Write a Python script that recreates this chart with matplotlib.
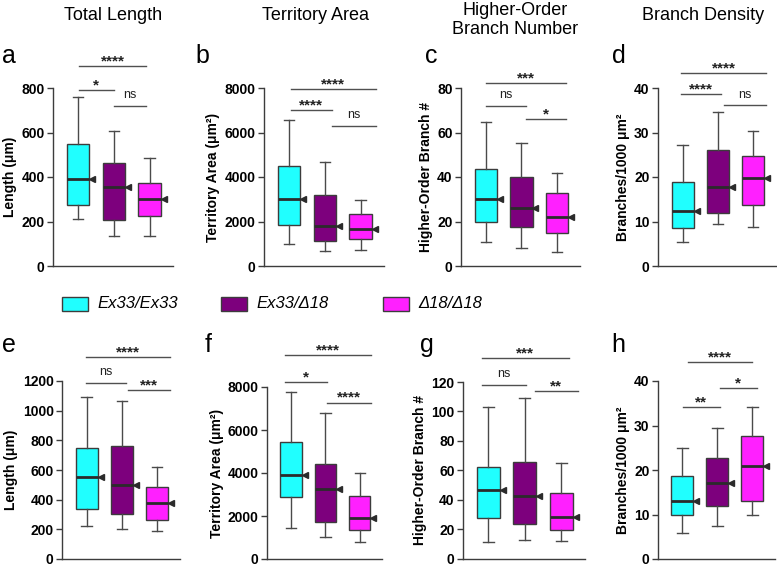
import numpy as np
import matplotlib
matplotlib.use("Agg")
import matplotlib.pyplot as plt
from matplotlib.patches import Rectangle

plt.rcParams["font.family"] = ["Liberation Sans", "DejaVu Sans"]

# ── Data ─────────────────────────────────────────────────────────────────────
GROUPS = ["Ex33/Ex33", "Ex33/Δ18", "Δ18/Δ18"]
COLORS = ["#20FFFF", "#7D007D", "#FF20FF"]

COL_TITLES = ["Total Length", "Territory Area", "Higher-Order\nBranch Number", "Branch Density"]
LETTERS = ["a", "b", "c", "d", "e", "f", "g", "h"]
YLABELS = ["Length (μm)", "Territory Area (μm²)", "Higher-Order Branch #", "Branches/1000 μm²"] * 2

# per genotype: [whisker low, Q1, median, Q3, whisker high]
A_BOX = [[209, 274, 389, 549, 759], [136, 208, 356, 465, 605], [136, 224, 300, 375, 487]]
B_BOX = [[972, 1854, 3006, 4486, 6564], [658, 1136, 1809, 3170, 4680], [703, 1211, 1660, 2348, 2976]]
C_BOX = [[10.8, 19.9, 30.1, 43.5, 64.6], [8.2, 17.5, 26.0, 39.9, 55.2], [6.3, 14.7, 21.8, 32.6, 41.6]]
D_BOX = [[5.5, 8.5, 12.4, 18.8, 27.1], [9.4, 12.0, 17.7, 26.0, 34.7], [8.8, 13.6, 19.8, 24.7, 30.4]]
E_BOX = [[225, 339, 555, 751, 1092], [204, 301, 497, 760, 1063], [187, 261, 380, 485, 620]]
F_BOX = [[1446, 2891, 3886, 5425, 7757], [1041, 1741, 3249, 4430, 6777], [793, 1337, 1897, 2907, 3995]]
G_BOX = [[11.2, 27.2, 46.6, 62.3, 103.2], [12.8, 23.2, 42.5, 65.6, 109.3], [11.9, 19.1, 27.9, 44.6, 65.2]]
H_BOX = [[5.9, 9.8, 13.0, 18.7, 25.0], [7.4, 12.0, 17.1, 22.6, 29.5], [10.0, 13.0, 20.8, 27.6, 34.1]]

# significance bars: (x from, x to, height, label)
A_SIG = [(1.03, 1.99, 792, "*"), (1.99, 2.90, 720, "ns"), (1.03, 2.90, 900, "****")]
B_SIG = [(1.04, 2.21, 7013, "****"), (2.21, 3.43, 6310, "ns"), (1.04, 3.43, 7970, "****")]
C_SIG = [(1.00, 2.14, 72.1, "ns"), (2.14, 3.25, 66.1, "*"), (1.00, 3.25, 82.2, "***")]
D_SIG = [(0.96, 2.10, 38.7, "****"), (2.16, 3.38, 36.1, "ns"), (0.96, 3.38, 43.4, "****")]
E_SIG = [(0.99, 2.12, 1187, "ns"), (2.18, 3.37, 1139, "***"), (0.99, 3.37, 1364, "****")]
F_SIG = [(0.83, 2.05, 8239, "*"), (2.05, 3.32, 7275, "****"), (0.83, 3.32, 9498, "****")]
G_SIG = [(0.83, 2.04, 118.3, "ns"), (2.27, 3.45, 113.6, "**"), (0.83, 3.20, 136.4, "***")]
H_SIG = [(1.01, 2.07, 34.1, "**"), (2.07, 3.13, 38.5, "*"), (1.15, 2.99, 44.3, "****")]

YMAX = [800, 8000, 80, 40, 1200, 8000, 120, 40]
YSTEP = [200, 2000, 20, 10, 200, 2000, 20, 10]

BOXES = [A_BOX, B_BOX, C_BOX, D_BOX, E_BOX, F_BOX, G_BOX, H_BOX]
SIGS = [A_SIG, B_SIG, C_SIG, D_SIG, E_SIG, F_SIG, G_SIG, H_SIG]

# ── Layout (pixels: left, top, right, bottom) ────────────────────────────────
W, H = 777, 565
AX_PX = [(53, 88, 173, 266), (264, 88, 384, 266), (461, 88, 580, 266), (658, 88, 776, 266),
         (62, 381, 180, 559), (267, 387, 382, 559), (463, 382, 585, 558.5), (658, 381, 775, 559)]
LETTER_PX = [(2, 63), (195, 63), (425, 63), (612, 63),
             (2, 352), (205, 352), (420, 352), (611, 352)]
TITLE_PX = [(113, 15), (315, 15), (515, 20), (703, 15)]
LEG_X = [62, 221, 383]
LEG_Y = 304

EDGE = "#3c3c3c"
MED = "#2b2b2b"
BW = 0.63

fig = plt.figure(figsize=(W / 100, H / 100), dpi=100)

for i in range(8):
    l, t, r, b = AX_PX[i]
    ax = fig.add_axes([l / W, 1 - b / H, (r - l) / W, (b - t) / H])
    stats = [dict(whislo=s[0], q1=s[1], med=s[2], q3=s[3], whishi=s[4], fliers=[])
             for s in BOXES[i]]
    bp = ax.bxp(stats, positions=[1, 2, 3], widths=BW, patch_artist=True,
                boxprops=dict(edgecolor=EDGE, linewidth=1),
                whiskerprops=dict(color="#4a4a4a", linewidth=1),
                capprops=dict(color="#4a4a4a", linewidth=1),
                medianprops=dict(color=MED, linewidth=2),
                capwidths=0.3, manage_ticks=False)
    for patch, c in zip(bp["boxes"], COLORS):
        patch.set_facecolor(c)
    # triangle marker at the right edge of each box, at the median
    for k, s in enumerate(BOXES[i]):
        ax.plot(k + 1 + BW / 2 + 0.08, s[2], marker="<", ms=5, color=MED,
                linestyle="none", clip_on=False, zorder=5)

    for x1, x2, y, lab in SIGS[i]:
        ax.plot([x1, x2], [y, y], color="#505050", lw=1, clip_on=False)
        stars = lab != "ns"
        ax.annotate(lab, xy=((x1 + x2) / 2, y), xytext=(0, 0.5 if stars else 5.5),
                    textcoords="offset points", ha="center", va="baseline",
                    fontsize=11 if stars else 9,
                    fontweight="bold" if stars else "normal", color="#222222",
                    annotation_clip=False)

    ax.set_xlim(0.3, 3.65)
    ax.set_ylim(0, YMAX[i])
    ax.set_yticks(np.arange(0, YMAX[i] + YSTEP[i] / 2, YSTEP[i]))
    ax.set_xticks([])
    ax.spines[["top", "right"]].set_visible(False)
    for sp in ["left", "bottom"]:
        ax.spines[sp].set_color(EDGE)
        ax.spines[sp].set_linewidth(1)
    ax.tick_params(axis="y", length=4, width=1, color=EDGE, pad=2, labelsize=10)
    for lbl in ax.get_yticklabels():
        lbl.set_fontweight("bold")
    ax.set_ylabel(YLABELS[i], fontsize=10, fontweight="bold", labelpad=3)

    lx, ly = LETTER_PX[i]
    fig.text(lx / W, 1 - ly / H, LETTERS[i], fontsize=18, va="baseline", ha="left")

for (tx, ty), title in zip(TITLE_PX, COL_TITLES):
    fig.text(tx / W, 1 - ty / H, title, fontsize=13, ha="center", va="center",
             linespacing=1.1)

# legend
for x, c, g in zip(LEG_X, COLORS, GROUPS):
    fig.add_artist(Rectangle((x / W, 1 - (LEG_Y + 7) / H), 26 / W, 14 / H,
                             transform=fig.transFigure, facecolor=c,
                             edgecolor=EDGE, linewidth=1))
    fig.text((x + 35) / W, 1 - LEG_Y / H, g, fontsize=12, style="italic",
             ha="left", va="center")

fig.savefig("out.png", dpi=100)
